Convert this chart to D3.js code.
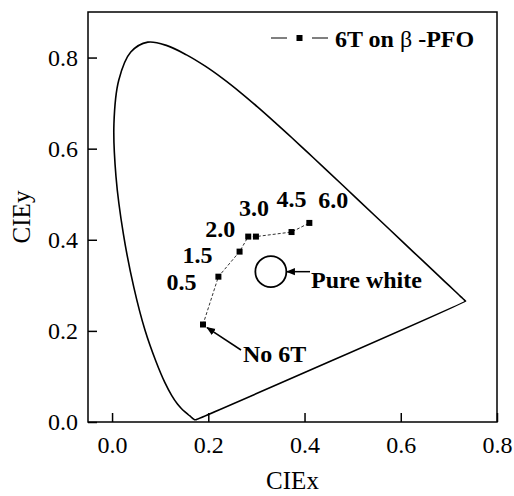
<!DOCTYPE html>
<html>
<head>
<meta charset="utf-8">
<script src="https://cdn.jsdelivr.net/npm/d3@7"></script>
<style>
  body { margin: 0; background: #fff; }
  svg { display: block; }
  svg text { font-family: "Liberation Serif", serif !important; fill: #000; }
</style>
</head>
<body>
<div id="chart"></div>
<script>
// CIE 1931 spectral locus, 380-700 nm in 5 nm steps
var locusX = [0.1741,0.1740,0.1738,0.1736,0.1733,0.1730,0.1726,0.1721,0.1714,0.1703,0.1689,0.1669,0.1644,0.1611,0.1566,0.1510,0.1440,0.1355,0.1241,0.1096,0.0913,0.0687,0.0454,0.0235,0.0082,0.0039,0.0139,0.0389,0.0743,0.1142,0.1547,0.1929,0.2296,0.2658,0.3016,0.3373,0.3731,0.4087,0.4441,0.4788,0.5125,0.5448,0.5752,0.6029,0.6270,0.6482,0.6658,0.6801,0.6915,0.7006,0.7079,0.7140,0.7190,0.7230,0.7260,0.7283,0.7300,0.7311,0.7320,0.7327,0.7334,0.7340,0.7344,0.7346,0.7347];
var locusY = [0.0050,0.0050,0.0049,0.0049,0.0048,0.0048,0.0048,0.0048,0.0051,0.0058,0.0069,0.0086,0.0109,0.0138,0.0177,0.0227,0.0297,0.0399,0.0578,0.0868,0.1327,0.2007,0.2950,0.4127,0.5384,0.6548,0.7502,0.8120,0.8338,0.8262,0.8059,0.7816,0.7543,0.7243,0.6923,0.6589,0.6245,0.5896,0.5547,0.5202,0.4866,0.4544,0.4242,0.3965,0.3725,0.3514,0.3340,0.3197,0.3083,0.2993,0.2920,0.2859,0.2809,0.2770,0.2740,0.2717,0.2700,0.2689,0.2680,0.2673,0.2666,0.2660,0.2656,0.2654,0.2653];

// 6T doping series (first point = no 6T)
var doseLabels = ["No 6T", "0.5", "1.5", "2.0", "3.0", "4.5", "6.0"];
var cieX = [0.189, 0.221, 0.265, 0.283, 0.299, 0.373, 0.410];
var cieY = [0.214, 0.319, 0.374, 0.407, 0.407, 0.417, 0.437];

var whiteX = 0.33, whiteY = 0.33;

var xTicks = [0.0, 0.2, 0.4, 0.6, 0.8];
var yTicks = [0.0, 0.2, 0.4, 0.6, 0.8];

var width = 514, height = 496;
var margin = {left: 88, right: 17, top: 12, bottom: 74};
var serif = "Liberation Serif, serif";

var svg = d3.select("#chart").append("svg")
    .attr("width", width)
    .attr("height", height)
    .attr("font-family", serif);

var defs = svg.append("defs");
defs.append("marker")
    .attr("id", "arrow")
    .attr("viewBox", "0 0 10 10")
    .attr("refX", 9).attr("refY", 5)
    .attr("markerWidth", 9).attr("markerHeight", 9)
    .attr("markerUnits", "userSpaceOnUse")
    .attr("orient", "auto")
    .append("path")
    .attr("d", "M0,1 L10,5 L0,9 Z")
    .attr("fill", "#000");

var x = d3.scaleLinear().domain([-0.05, 0.8]).range([margin.left, width - margin.right]);
var y = d3.scaleLinear().domain([0, 0.9]).range([height - margin.bottom, margin.top]);

// axes, ticks pointing inward
var xAxis = svg.append("g")
    .attr("transform", "translate(0," + (height - margin.bottom) + ")")
    .call(d3.axisBottom(x).tickValues(xTicks).tickSizeInner(-9).tickSizeOuter(0)
        .tickPadding(14).tickFormat(d3.format(".1f")));
var yAxis = svg.append("g")
    .attr("transform", "translate(" + margin.left + ",0)")
    .call(d3.axisLeft(y).tickValues(yTicks).tickSizeInner(-9).tickSizeOuter(0)
        .tickPadding(10).tickFormat(d3.format(".1f")));

[xAxis, yAxis].forEach(function(a) {
    a.attr("font-family", serif).attr("font-size", 24);
    a.select(".domain").remove();
    a.selectAll(".tick line").attr("stroke", "#000").attr("stroke-width", 1.5);
    a.selectAll(".tick text").attr("fill", "#000");
});

// frame
svg.append("rect")
    .attr("x", margin.left).attr("y", margin.top)
    .attr("width", width - margin.left - margin.right)
    .attr("height", height - margin.top - margin.bottom)
    .attr("fill", "none").attr("stroke", "#000").attr("stroke-width", 1.5);

// axis titles
svg.append("text")
    .attr("x", (margin.left + width - margin.right) / 2)
    .attr("y", 489)
    .attr("text-anchor", "middle")
    .attr("font-size", 25)
    .text("CIEx");

svg.append("text")
    .attr("transform", "translate(30," + ((margin.top + height - margin.bottom) / 2) + ") rotate(-90)")
    .attr("text-anchor", "middle")
    .attr("font-size", 25)
    .text("CIEy");

// spectral locus (closed by the purple line)
var locus = d3.range(locusX.length).map(function(i) { return [locusX[i], locusY[i]]; });
svg.append("path")
    .datum(locus)
    .attr("d", d3.line().x(function(d) { return x(d[0]); }).y(function(d) { return y(d[1]); })
        .curve(d3.curveCatmullRomClosed))
    .attr("fill", "none")
    .attr("stroke", "#000")
    .attr("stroke-width", 1.6);

// data series
var pts = d3.range(cieX.length).map(function(i) {
    return {label: doseLabels[i], x: cieX[i], y: cieY[i]};
});

svg.append("path")
    .datum(pts)
    .attr("d", d3.line().x(function(d) { return x(d.x); }).y(function(d) { return y(d.y); }))
    .attr("fill", "none")
    .attr("stroke", "#333")
    .attr("stroke-width", 1)
    .attr("stroke-dasharray", "3,2");

svg.selectAll("rect.pt")
    .data(pts)
    .enter().append("rect")
    .attr("class", "pt")
    .attr("x", function(d) { return x(d.x) - 3; })
    .attr("y", function(d) { return y(d.y) - 3; })
    .attr("width", 6).attr("height", 6)
    .attr("fill", "#000");

// dose labels, pixel offsets from their point
var labelOffsets = {"0.5": [-37, 13], "1.5": [-42, 11], "2.0": [-28, 0],
                    "3.0": [-2, -21], "4.5": [0, -25], "6.0": [24, -15]};
svg.selectAll("text.dose")
    .data(pts.slice(1))
    .enter().append("text")
    .attr("class", "dose")
    .attr("x", function(d) { return x(d.x) + labelOffsets[d.label][0]; })
    .attr("y", function(d) { return y(d.y) + labelOffsets[d.label][1]; })
    .attr("text-anchor", "middle")
    .attr("font-size", 24)
    .attr("font-weight", "bold")
    .text(function(d) { return d.label; });

// "No 6T" annotation
var p0 = pts[0];
svg.append("line")
    .attr("x1", 241).attr("y1", 350)
    .attr("x2", x(p0.x) + 4).attr("y2", y(p0.y) + 3)
    .attr("stroke", "#000").attr("stroke-width", 1.5)
    .attr("marker-end", "url(#arrow)");
svg.append("text")
    .attr("x", 243).attr("y", 362)
    .attr("font-size", 24).attr("font-weight", "bold")
    .text(p0.label);

// pure white point
svg.append("circle")
    .attr("cx", x(whiteX)).attr("cy", y(whiteY))
    .attr("r", 15.5)
    .attr("fill", "none").attr("stroke", "#000").attr("stroke-width", 1.8);
svg.append("line")
    .attr("x1", 310).attr("y1", y(whiteY))
    .attr("x2", x(whiteX) + 16).attr("y2", y(whiteY))
    .attr("stroke", "#000").attr("stroke-width", 1.5)
    .attr("marker-end", "url(#arrow)");
svg.append("text")
    .attr("x", 311).attr("y", 288)
    .attr("font-size", 24).attr("font-weight", "bold")
    .text("Pure white");

// legend
var lg = svg.append("g").attr("transform", "translate(0,38)");
lg.append("line").attr("x1", 271).attr("x2", 287).attr("y1", 0).attr("y2", 0)
    .attr("stroke", "#000").attr("stroke-width", 1);
lg.append("line").attr("x1", 312).attr("x2", 328).attr("y1", 0).attr("y2", 0)
    .attr("stroke", "#000").attr("stroke-width", 1);
lg.append("rect").attr("x", 296.5).attr("y", -3).attr("width", 6).attr("height", 6).attr("fill", "#000");
var lt = lg.append("text").attr("x", 335).attr("y", 9)
    .attr("font-size", 24).attr("font-weight", "bold");
lt.append("tspan").text("6T on ");
lt.append("tspan").attr("font-weight", "normal").text("β");
lt.append("tspan").text(" -PFO");
</script>
</body>
</html>
